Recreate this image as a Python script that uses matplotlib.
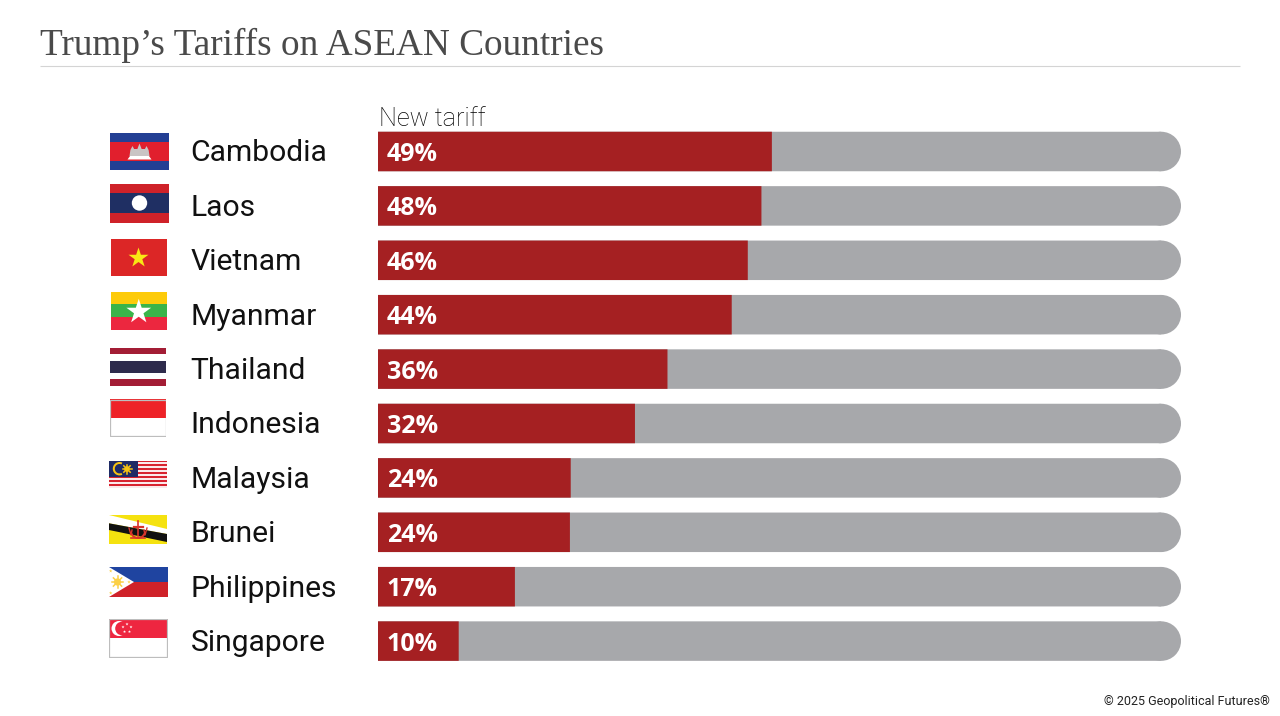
import numpy as np
import matplotlib
matplotlib.use("Agg")
import matplotlib.pyplot as plt
from matplotlib.patches import Ellipse, Polygon, Circle, Rectangle, Wedge
from matplotlib.transforms import blended_transform_factory

# data
countries = ["Cambodia", "Laos", "Vietnam", "Myanmar", "Thailand", "Indonesia",
             "Malaysia", "Brunei", "Philippines", "Singapore"]
tariffs = [49, 48, 46, 44, 36, 32, 24, 24, 17, 10]
drawn = [49.05, 47.75, 46.05, 44.05, 36.05, 32.0, 24.0, 23.9, 17.05, 10.05]  # bar ends as measured
full_scale = 100

W, H = 1280, 716
RED = "#a52022"
GREY = "#a7a8ab"

# flag boxes in pixels: left, top, right, bottom
flag_boxes = {
    "Cambodia": (110, 133, 169, 170),
    "Laos": (110, 183.5, 169, 222.5),
    "Vietnam": (110.5, 239, 166.5, 276),
    "Myanmar": (111, 292, 166.5, 329.5),
    "Thailand": (110, 348, 166, 385.5),
    "Indonesia": (110, 399.5, 166, 436.5),
    "Malaysia": (109, 460.5, 166.5, 487.5),
    "Brunei": (109, 515, 167, 544),
    "Philippines": (109, 567, 167.5, 597),
    "Singapore": (108.5, 618.5, 167.5, 657.5),
}


def star(cx, cy, r, n=5, inner=0.382, rot=-90):
    pts = []
    for k in range(2 * n):
        rad = r if k % 2 == 0 else r * inner
        a = np.radians(rot + k * 180 / n)
        pts.append((cx + rad * np.cos(a), cy + rad * np.sin(a)))
    return pts


def bands(ax, w, h, spec):
    # spec is a list of (fraction of height, colour)
    y = 0
    for frac, col in spec:
        ax.add_patch(Rectangle((0, y), w, frac * h, fc=col, ec="none"))
        y += frac * h


def sun(ax, cx, cy, r, col, rays=8):
    for k in range(rays):
        a = k * 2 * np.pi / rays
        ax.plot([cx, cx + r * np.cos(a)], [cy, cy + r * np.sin(a)], color=col, lw=1.1)
    ax.add_patch(Circle((cx, cy), r * 0.62, fc=col, ec="none"))


def outline(ax, w, h):
    ax.add_patch(Rectangle((0.3, 0.3), w - 0.6, h - 0.6, fc="none", ec="#bdbdbd", lw=0.9))


def draw_flag(name, ax, w, h):
    if name == "Cambodia":
        bands(ax, w, h, [(0.24, "#233f94"), (0.52, "#e11f2d"), (0.24, "#233f94")])
        ax.add_patch(Rectangle((21, 16), 17, 7, fc="#c9c4c4", ec="none"))
        for cx, tip, half in [(22.5, 13, 3), (29.5, 10.5, 3.6), (36.5, 13, 3)]:
            ax.add_patch(Polygon([(cx - half, 23), (cx - half * 0.7, 17), (cx, tip),
                                  (cx + half * 0.7, 17), (cx + half, 23)],
                                 fc="#c9c4c4", ec="none"))
        ax.add_patch(Polygon([(17.5, 26.5), (41.5, 26.5), (39, 23), (20, 23)], fc="white", ec="none"))
    elif name == "Laos":
        bands(ax, w, h, [(0.25, "#cf2229"), (0.5, "#1f2f63"), (0.25, "#cf2229")])
        ax.add_patch(Circle((w / 2, h / 2), 7.7, fc="white", ec="none"))
    elif name == "Vietnam":
        bands(ax, w, h, [(1, "#dc2626")])
        ax.add_patch(Polygon(star(w / 2, h / 2 + 0.5, 10.5), fc="#f9e814", ec="none"))
    elif name == "Myanmar":
        bands(ax, w, h, [(1 / 3, "#fdcb0a"), (1 / 3, "#3ab44a"), (1 / 3, "#ec273f")])
        ax.add_patch(Polygon(star(w / 2, h / 2 + 1, 13), fc="white", ec="none"))
    elif name == "Thailand":
        bands(ax, w, h, [(1 / 6, "#a31d35"), (1 / 6, "white"), (1 / 3, "#2e2b4c"),
                         (1 / 6, "white"), (1 / 6, "#a31d35")])
    elif name == "Indonesia":
        bands(ax, w, h, [(0.5, "#ee2227"), (0.5, "white")])
        outline(ax, w, h)
    elif name == "Malaysia":
        for k in range(14):
            ax.add_patch(Rectangle((0, k * h / 14), w, h / 14,
                                   fc="#d8232f" if k % 2 == 0 else "#fbe9ea", ec="none"))
        ax.add_patch(Rectangle((0, 0), 29, 16.3, fc="#1f2b66", ec="none"))
        ax.add_patch(Wedge((10.5, 8.2), 6.7, 65, 295, width=2, fc="#f7c312", ec="none"))
        sun(ax, 18, 8.5, 4.5, "#f7c312")
    elif name == "Brunei":
        bands(ax, w, h, [(1, "#f5e20f")])
        ax.add_patch(Polygon([(0, 0), (w, 14), (w, 19), (0, 8.3)], fc="white", ec="none"))
        ax.add_patch(Polygon([(0, 8.3), (w, 19), (w, 27), (0, 15)], fc="#111111", ec="none"))
        crest = "#d9352b"
        ax.plot([29, 29], [6, 21], color=crest, lw=1.2)
        ax.plot([24.5, 33.5], [11.5, 11.5], color=crest, lw=1.6)
        ax.add_patch(Wedge((29, 16), 8, 20, 160, width=2, fc=crest, ec="none"))
        ax.plot([20, 22, 23], [13, 20, 15], color=crest, lw=1)
        ax.plot([38, 36, 35], [13, 20, 15], color=crest, lw=1)
        ax.plot([22, 36], [23, 23], color=crest, lw=1.2)
    elif name == "Philippines":
        bands(ax, w, h, [(0.5, "#1f44a0"), (0.5, "#cf2229")])
        ax.add_patch(Polygon([(0, 0), (25, h / 2), (0, h)], fc="white", ec="none"))
        sun(ax, 8.5, h / 2, 5.8, "#fbd046")
        for p in [(1.7, 4), (1.7, 26), (20, h / 2)]:
            ax.add_patch(Polygon(star(p[0], p[1], 1.8), fc="#fbd046", ec="none"))
    elif name == "Singapore":
        bands(ax, w, h, [(0.5, "#ee2640"), (0.5, "white")])
        ax.add_patch(Circle((10.5, 10), 7.5, fc="white", ec="none"))
        ax.add_patch(Circle((13.5, 10), 6.8, fc="#ee2640", ec="none"))
        for a in range(-90, 270, 72):
            ax.add_patch(Polygon(star(18.5 + 4.2 * np.cos(np.radians(a)),
                                      9.8 + 4.2 * np.sin(np.radians(a)), 1.6),
                                 fc="white", ec="none"))
        outline(ax, w, h)


fig = plt.figure(figsize=(W / 100, H / 100), dpi=100, facecolor="white")

# bar axes, 0 to 100 percent
left, right = 378, 1181
row = 54.4
top = 151.5 - row / 2
ax = fig.add_axes([left / W, 1 - (top + row * len(countries)) / H,
                   (right - left) / W, row * len(countries) / H])
ax.set_xlim(0, full_scale)
ax.set_ylim(len(countries) - 0.5, -0.5)
ax.axis("off")

bar_h = 39.5 / row
px_x = full_scale / (right - left)
radius = (39.5 / 2) * px_x
nudge = 2 / row  # text sits a little under the bar centre

for i, (name, val, end) in enumerate(zip(countries, tariffs, drawn)):
    # snapping off, otherwise the bar and its round end do not line up
    ax.barh(i, full_scale - radius, height=bar_h, color=GREY, zorder=2, snap=False)
    ax.add_patch(Ellipse((full_scale - radius, i), 2 * radius, bar_h, fc=GREY, ec="none",
                         zorder=2, snap=False))
    ax.barh(i, end, height=bar_h, color=RED, zorder=3, snap=False)
    ax.text(9 * px_x, i + 1.5 * nudge, "%d%%" % val, color="white", fontsize=18, weight="bold",
            family="Open Sans", va="center", ha="left", zorder=4)

label_tf = blended_transform_factory(fig.transFigure, ax.transData)
for i, name in enumerate(countries):
    ax.text(190.5 / W, i + nudge, name, transform=label_tf, fontsize=21.6, family="Roboto",
            color="#111111", va="center", ha="left", clip_on=False)

    l, t, r, b = flag_boxes[name]
    fax = fig.add_axes([l / W, 1 - b / H, (r - l) / W, (b - t) / H])
    fax.set_xlim(0, r - l)
    fax.set_ylim(b - t, 0)
    fax.axis("off")
    draw_flag(name, fax, r - l, b - t)

fig.text(379 / W, 1 - 119 / H, "New tariff", fontsize=18.2, family="Roboto", weight="light",
         color="#000000", va="center", ha="left")

# header
fig.text(40 / W, 1 - 55 / H, "Trump\u2019s Tariffs on ASEAN Countries", fontsize=26.8,
         family="Liberation Serif", color="#4a4a4a", va="baseline", ha="left")
fig.add_artist(plt.Line2D([40 / W, 1240 / W], [1 - 65.5 / H, 1 - 65.5 / H], color="#d4d4d4",
                          lw=0.8, solid_capstyle="butt"))

fig.text(1270 / W, 1 - 701 / H, "\u00a9 2025 Geopolitical Futures\u00ae", fontsize=9.0,
         family="Roboto", color="#222222", va="center", ha="right")

fig.savefig("out.png", dpi=100)
